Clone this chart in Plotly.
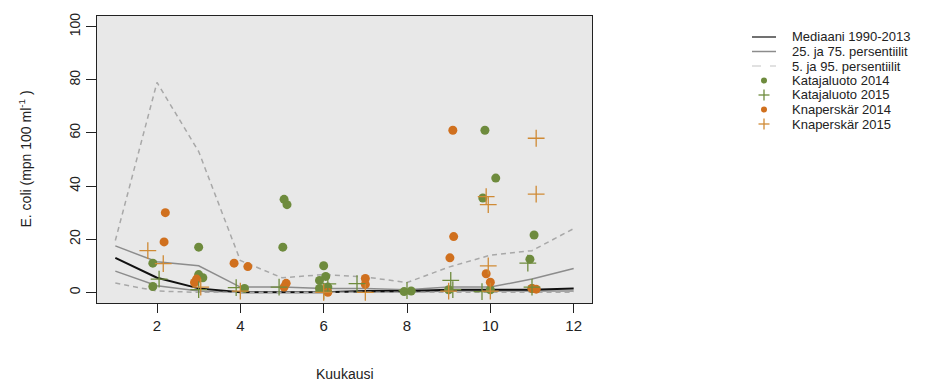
import plotly.graph_objects as go

# ---------------- data ----------------
months = [1, 2, 3, 4, 5, 6, 7, 8, 9, 10, 11, 12]
median = [13, 5.5, 1.5, 0, 0, 0, 0.5, 0.5, 1, 1, 1, 1.5]
p25 = [8, 2.5, 0.5, 0, 0, 0, 0, 0, 0.5, 0.5, 0.5, 0.5]
p75 = [17.5, 11.5, 10, 2, 2, 1.5, 1.5, 1, 2, 2, 5, 9]
p05 = [3.5, 0.5, 0, 0, 0, 0, 0, 0, 0, 0, 0, 0]
p95 = [19.5, 79, 53, 12, 5.5, 6.7, 5.8, 3.7, 9.5, 14, 15.7, 24]

kat14_x = [1.9, 1.9, 3.0, 3.0, 3.1, 4.1, 5.05, 5.12, 5.02, 6.0, 6.05, 5.9, 5.9, 6.1,
           7.93, 8.1, 9.0, 9.87, 9.82, 10.13, 10.0, 11.05, 10.95, 11.0]
kat14_y = [11, 2.2, 17, 6.7, 5.5, 1.5, 35, 33, 17, 10, 6, 4.5, 1.5, 2,
           0.3, 0.5, 1, 61, 35.5, 43, 1, 21.6, 12.5, 1.5]
kat15_x = [2.05, 3.0, 3.9, 4.93, 6.1, 6.0, 6.8, 8.0, 9.05, 9.1, 9.8, 10.9, 11.0]
kat15_y = [5, 1, 1.8, 2, 3.2, 0.5, 3.3, 0.7, 4.5, 1, 0.3, 11, 2]
kna14_x = [2.2, 2.17, 2.9, 2.95, 3.85, 4.18, 5.1, 5.05, 6.1, 7.0, 7.0,
           9.1, 9.12, 9.03, 9.9, 10.0, 11.0, 11.1]
kna14_y = [30, 19, 3.7, 5, 11, 9.7, 3.4, 2, 0, 5.2, 3,
           61, 21, 13, 7, 3.8, 1.5, 1.2]
kna15_x = [1.78, 2.15, 3.05, 4.0, 6.0, 7.0, 9.9, 9.95, 11.1, 11.1, 9.95, 10.0, 9.0]
kna15_y = [15.7, 10.8, 2, 0.5, 0, 0, 36, 33, 37, 58, 10, 0.5, 0.5]

x_ticks = [2, 4, 6, 8, 10, 12]
y_ticks = [0, 20, 40, 60, 80, 100]

legend_labels = ["Mediaani 1990-2013", "25. ja 75. persentiilit", "5. ja 95. persentiilit",
                 "Katajaluoto 2014", "Katajaluoto 2015", "Knaperskär 2014", "Knaperskär 2015"]

# ---------------- style ----------------
GREEN = "#6e8b3d"
ORANGE = "#d0701e"
ORANGE_P = "#cf8a35"
BLACK = "#111111"
QGRAY = "#8c8c8c"
DGRAY = "#a8a8a8"
FONT = "Liberation Sans, Arial, sans-serif"

W, H = 942, 385
L, R, T, B = 97, 350, 16, 82
PW, PH = W - L - R, H - T - B

fig = go.Figure()

def line(y, color, width, dash="solid"):
    fig.add_trace(go.Scatter(x=months, y=y, mode="lines",
                             line=dict(color=color, width=width, dash=dash),
                             showlegend=False, hoverinfo="skip"))

line(p75, QGRAY, 1.5)
line(p25, QGRAY, 1.5)
line(p95, DGRAY, 1.5, "5px,4px")
line(median, BLACK, 2)
line(p05, DGRAY, 1.5, "5px,4px")

def pts(x, y, color, symbol):
    if symbol == "circle":
        m = dict(symbol="circle", size=9, color=color, line=dict(width=0))
    else:
        m = dict(symbol="cross-thin", size=12, color=color, line=dict(width=1.3, color=color))
    fig.add_trace(go.Scatter(x=x, y=y, mode="markers", marker=m,
                             showlegend=False, hoverinfo="skip"))

pts(kat14_x, kat14_y, GREEN, "circle")
pts(kna14_x, kna14_y, ORANGE, "circle")
pts(kat15_x, kat15_y, GREEN, "cross")
pts(kna15_x, kna15_y, ORANGE_P, "cross")

# ---------------- custom legend (paper coords from pixel layout) ----------------
def px_x(px):
    return (px - L) / PW

def px_y(py):
    return (H - B - py) / PH

shapes = []
annotations = []
row0, rstep = 37, 14.5
sample_x0, sample_x1, sym_x, text_x = 752, 776, 764, 790
styles = [("line", BLACK, "solid", 1.2), ("line", QGRAY, "solid", 1.5),
          ("line", "#c4c4c4", "dash", 1.2), ("dot", GREEN, None, None),
          ("plus", GREEN, None, None), ("dot", ORANGE, None, None), ("plus", ORANGE_P, None, None)]
for i, (lab, st) in enumerate(zip(legend_labels, styles)):
    cy = row0 + i * rstep
    kind, col, dash, w = st
    if kind == "line":
        shapes.append(dict(type="line", xref="paper", yref="paper",
                           x0=px_x(sample_x0), x1=px_x(sample_x1), y0=px_y(cy), y1=px_y(cy),
                           line=dict(color=col, width=w, dash=dash)))
    elif kind == "dot":
        r = 3
        shapes.append(dict(type="circle", xref="paper", yref="paper",
                           x0=px_x(sym_x - r), x1=px_x(sym_x + r),
                           y0=px_y(cy + r), y1=px_y(cy - r),
                           fillcolor=col, line=dict(width=0)))
    else:
        r = 5.5
        shapes.append(dict(type="line", xref="paper", yref="paper",
                           x0=px_x(sym_x - r), x1=px_x(sym_x + r), y0=px_y(cy), y1=px_y(cy),
                           line=dict(color=col, width=1.3)))
        shapes.append(dict(type="line", xref="paper", yref="paper",
                           x0=px_x(sym_x), x1=px_x(sym_x), y0=px_y(cy - r), y1=px_y(cy + r),
                           line=dict(color=col, width=1.3)))
    annotations.append(dict(text=lab, xref="paper", yref="paper",
                            x=px_x(text_x), y=px_y(cy), xanchor="left", yanchor="middle",
                            showarrow=False, font=dict(family=FONT, size=13, color="#222")))

# axis titles as annotations
annotations.append(dict(text="E. coli (mpn 100 ml<sup>-1</sup> )", xref="paper", yref="paper",
                        x=px_x(25), y=0.5, textangle=-90, xanchor="center", yanchor="middle",
                        showarrow=False, font=dict(family=FONT, size=14, color="#222")))
annotations.append(dict(text="Kuukausi", xref="paper", yref="paper",
                        x=0.5, y=px_y(374), xanchor="center", yanchor="middle",
                        showarrow=False, font=dict(family=FONT, size=14, color="#222")))

fig.update_layout(
    width=W, height=H,
    margin=dict(l=L, r=R, t=T, b=B),
    paper_bgcolor="white",
    plot_bgcolor="#e8e8e8",
    shapes=shapes,
    annotations=annotations,
    showlegend=False,
    font=dict(family=FONT, size=14, color="#222"),
)
fig.update_xaxes(range=[0.56, 12.44], tickvals=x_ticks, ticktext=[str(v) for v in x_ticks],
                 showgrid=False, zeroline=False, showline=True, mirror=True,
                 linecolor="#222", linewidth=1, ticks="outside", ticklen=9,
                 tickcolor="#222", tickfont=dict(size=15))
fig.update_yaxes(range=[-4, 104], tickvals=y_ticks, ticktext=[str(v) for v in y_ticks],
                 tickangle=-90, showgrid=False, zeroline=False, showline=True, mirror=True,
                 linecolor="#222", linewidth=1, ticks="outside", ticklen=10,
                 tickcolor="#222", tickfont=dict(size=14))

fig.write_html("out.html")
